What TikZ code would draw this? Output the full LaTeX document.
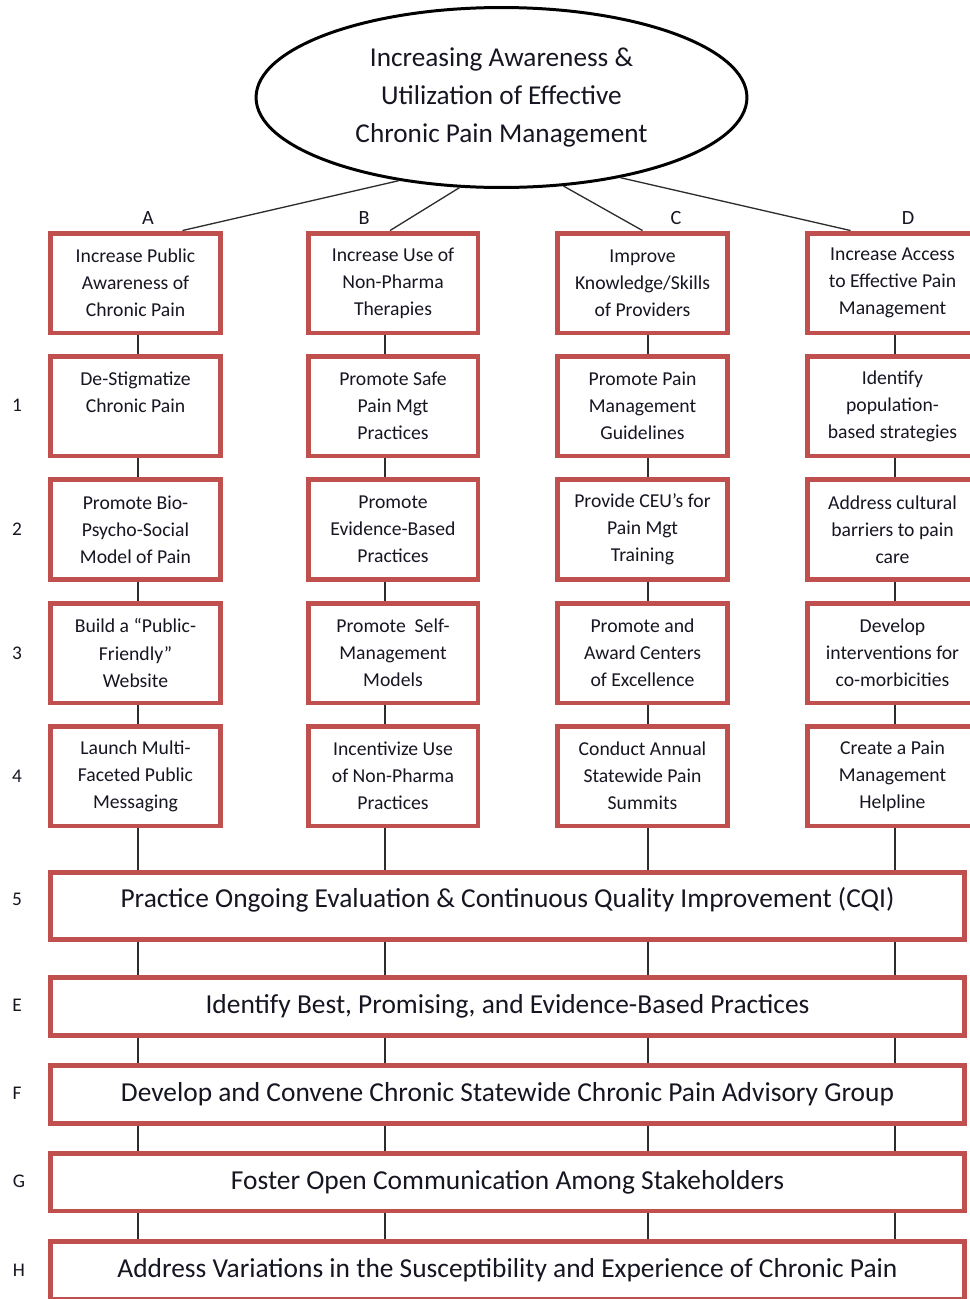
\documentclass[tikz,border=0pt]{standalone}
\usepackage{fontspec}
\setmainfont{Carlito}
\usepackage{xcolor}
\usepackage{tikz}
\usetikzlibrary{calc,shapes.geometric}
\definecolor{boxred}{RGB}{192,80,77}
\definecolor{inkdark}{RGB}{22,22,34}
\definecolor{linkgray}{RGB}{45,45,45}
\tikzset{
  goalnode/.style={ellipse, draw=black, line width=1.7pt, inner sep=0pt,
    minimum width=9.82cm, minimum height=3.6cm, align=center, text=inkdark,
    font=\fontsize{15.5}{21.8}\selectfont},
  cell/.style={draw=boxred, line width=2.83pt, fill=white, align=center,
    minimum width=3.4cm, minimum height=2cm, inner sep=2pt, text=inkdark,
    font=\fontsize{11.2}{15.4}\selectfont},
  band/.style={draw=boxred, line width=2.83pt, fill=white, align=center,
    minimum width=18.28cm, minimum height=1.16cm, inner sep=0pt, text=inkdark,
    font=\fontsize{15.6}{18}\selectfont},
  bandtext/.style={text=inkdark, inner sep=0pt, font=\fontsize{15.6}{18}\selectfont},
  rowtag/.style={text=inkdark, font=\fontsize{11}{13}\selectfont, inner sep=0pt},
  coltag/.style={text=inkdark, font=\fontsize{11.5}{13}\selectfont, inner sep=0pt},
  link/.style={draw=linkgray, line width=0.85pt},
  leader/.style={draw=linkgray, line width=0.75pt},
}

\begin{document}
\begin{tikzpicture}[x=0.02cm, y=-0.02cm]

  \fill[white] (0,0) rectangle (970,1299);
  \useasboundingbox (0,0) rectangle (970,1299);

  % goal
  \node[goalnode] (goal) at (501.5,97.5) {Increasing Awareness \&\\Utilization of Effective\\Chronic Pain Management};

  % column heads
  \node[coltag] (tagA) at (148,218) {A};
  \node[coltag] (tagB) at (364,218) {B};
  \node[coltag] (tagC) at (676,218) {C};
  \node[coltag] (tagD) at (908,218) {D};

  \node[cell] (a0) at (135.5,283) {Increase Public\\Awareness of\\Chronic Pain};
  \node[cell] (b0) at (393,283)   {Increase Use of\\Non-Pharma\\Therapies};
  \node[cell] (c0) at (642.5,283) {Improve\\Knowledge/Skills\\of Providers};
  \node[cell] (d0) at (892.5,283) {Increase Access\\to Effective Pain\\Management};

  % row 1
  \node[cell] (a1) at (135.5,406) {De-Stigmatize\\Chronic Pain\\~};
  \node[cell] (b1) at (393,406)   {Promote Safe\\Pain Mgt\\Practices};
  \node[cell] (c1) at (642.5,406) {Promote Pain\\Management\\Guidelines};
  \node[cell] (d1) at (892.5,406) {Identify\\population-\\based strategies};

  % row 2
  \node[cell] (a2) at (135.5,529.5) {Promote Bio-\\Psycho-Social\\Model of Pain};
  \node[cell] (b2) at (393,529.5)   {Promote\\Evidence-Based\\Practices};
  \node[cell] (c2) at (642.5,529.5) {Provide CEU’s for\\Pain Mgt\\Training};
  \node[cell] (d2) at (892.5,529.5) {Address cultural\\barriers to pain\\care};

  % row 3
  \node[cell] (a3) at (135.5,653) {Build a “Public-\\Friendly”\\Website};
  \node[cell] (b3) at (393,653)   {Promote~ Self-\\Management\\Models};
  \node[cell] (c3) at (642.5,653) {Promote and\\Award Centers\\of Excellence};
  \node[cell] (d3) at (892.5,653) {Develop\\interventions for\\co-morbicities};

  % row 4
  \node[cell] (a4) at (135.5,776) {Launch Multi-\\Faceted Public\\Messaging};
  \node[cell] (b4) at (393,776)   {Incentivize Use\\of Non-Pharma\\Practices};
  \node[cell] (c4) at (642.5,776) {Conduct Annual\\Statewide Pain\\Summits};
  \node[cell] (d4) at (892.5,776) {Create a Pain\\Management\\Helpline};

  % full-width bands
  \node[band, minimum height=1.34cm,
    label={[bandtext, yshift=3.5pt]center:Practice Ongoing Evaluation \& Continuous Quality Improvement (CQI)}]
    (cqi) at (507.5,906) {};
  \node[band] (best)     at (507.5,1006.5) {Identify Best, Promising, and Evidence-Based Practices};
  \node[band] (advisory) at (507.5,1094.5) {Develop and Convene Chronic Statewide Chronic Pain Advisory Group};
  \node[band] (comm)     at (507.5,1182)   {Foster Open Communication Among Stakeholders};
  \node[band] (vary)     at (507.5,1270)   {Address Variations in the Susceptibility and Experience of Chronic Pain};

  % row numbers / letters
  \node[rowtag] (r1) at (17,405)  {1};
  \node[rowtag] (r2) at (17,529)  {2};
  \node[rowtag] (r3) at (17,653)  {3};
  \node[rowtag] (r4) at (17,776)  {4};
  \node[rowtag] (r5) at (17,899)  {5};
  \node[rowtag] (rE) at (17,1005) {E};
  \node[rowtag] (rF) at (17,1093) {F};
  \node[rowtag] (rG) at (19,1181) {G};
  \node[rowtag] (rH) at (19,1270) {H};

  % goal to column heads
  \draw[leader] (goal.219) -- ($(a0.north)+(47,0)$);
  \draw[leader] (goal.245) -- ($(b0.north)+(-3,0)$);
  \draw[leader] (goal.305) -- (c0.north);
  \draw[leader] (goal.326) -- ($(d0.north)+(-42,0)$);

  % column lines
  \coordinate (xa) at (138,0);
  \coordinate (xb) at (385,0);
  \coordinate (xc) at (648,0);
  \coordinate (xd) at (895,0);
  \foreach \c in {a,b,c,d}{
    \draw[link] (x\c |- \c0.south) -- (x\c |- \c1.north);
    \draw[link] (x\c |- \c1.south) -- (x\c |- \c2.north);
    \draw[link] (x\c |- \c2.south) -- (x\c |- \c3.north);
    \draw[link] (x\c |- \c3.south) -- (x\c |- \c4.north);
    \draw[link] (x\c |- \c4.south) -- (x\c |- cqi.north);
    \draw[link] (x\c |- cqi.south) -- (x\c |- best.north);
    \draw[link] (x\c |- best.south) -- (x\c |- advisory.north);
    \draw[link] (x\c |- advisory.south) -- (x\c |- comm.north);
    \draw[link] (x\c |- comm.south) -- (x\c |- vary.north);
  }

\end{tikzpicture}
\end{document}
